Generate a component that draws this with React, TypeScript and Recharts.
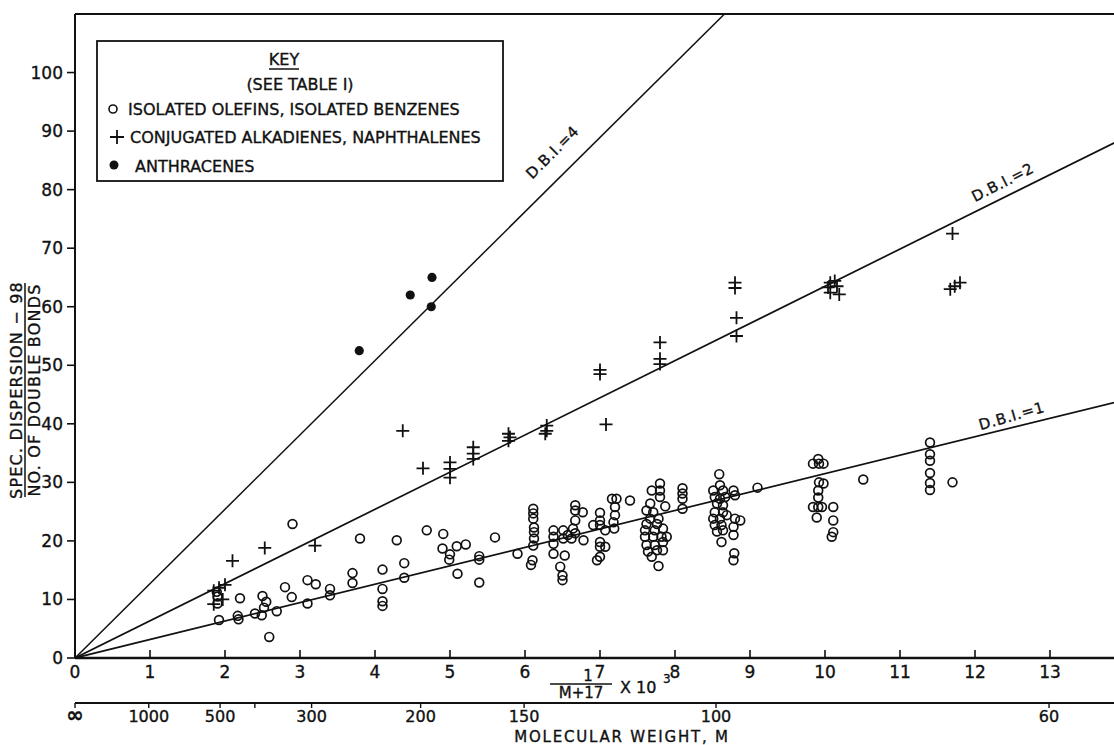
import { ScatterChart, Scatter, XAxis, YAxis, ReferenceLine } from "recharts";

// x = 1/(M+17) x 10^3, y = (spec. dispersion - 98) / no. of double bonds
const olefins = [
  [1.89, 11.3], [1.9, 10.5], [1.9, 9.3], [1.92, 6.5],
  [2.2, 10.2], [2.17, 7.2], [2.18, 6.6], [2.4, 7.6], [2.49, 7.3], [2.5, 10.6],
  [2.55, 9.6], [2.52, 8.6], [2.59, 3.6], [2.69, 8.0], [2.8, 12.1], [2.89, 10.4],
  [2.9, 22.9], [3.1, 13.3], [3.21, 12.6], [3.1, 9.3], [3.4, 11.8], [3.4, 10.7],
  [3.7, 14.5], [3.7, 12.8], [3.8, 20.4], [4.1, 15.1], [4.1, 11.8], [4.1, 9.7],
  [4.1, 8.9], [4.29, 20.1], [4.39, 16.2], [4.39, 13.7],
  [4.69, 21.8], [4.91, 21.2], [4.9, 18.7], [5.09, 19.1], [5.21, 19.4], [5.0, 17.7],
  [4.99, 16.8], [5.1, 14.4], [5.39, 17.4], [5.39, 16.8], [5.39, 12.9], [5.6, 20.6],
  [5.9, 17.8],
  [6.11, 25.5], [6.11, 24.7], [6.11, 23.8], [6.12, 22.3], [6.12, 21.5], [6.12, 20.4],
  [6.11, 19.2], [6.1, 16.7], [6.08, 15.9],
  [6.38, 21.8], [6.38, 20.7], [6.38, 19.5], [6.38, 17.8], [6.51, 21.8], [6.51, 20.4],
  [6.53, 17.5], [6.47, 15.6], [6.5, 14.1], [6.5, 13.3], [6.57, 21.0],
  [6.67, 26.1], [6.67, 25.2], [6.77, 24.9], [6.67, 23.5], [6.64, 22.1], [6.67, 21.3],
  [6.62, 20.4],
  [7.0, 24.8], [7.0, 23.5], [6.91, 22.7], [7.0, 22.7], [7.07, 21.8], [7.0, 19.8],
  [7.0, 19.0], [7.07, 19.0], [7.0, 17.3], [6.96, 16.7], [6.78, 20.1],
  [7.16, 27.2], [7.22, 27.2], [7.2, 25.8], [7.2, 24.4], [7.18, 23.2], [7.19, 22.1],
  [7.4, 26.9],
  [7.8, 29.8], [7.8, 28.6], [7.69, 28.6], [7.8, 27.5], [7.67, 26.4], [7.87, 25.9],
  [7.62, 25.2], [7.71, 24.9], [7.67, 23.8], [7.78, 23.8], [7.62, 22.9], [7.76, 22.9],
  [7.6, 21.8], [7.73, 21.8], [7.84, 22.1], [7.6, 20.7], [7.71, 20.7], [7.82, 20.7],
  [7.89, 20.7], [7.62, 19.3], [7.73, 19.3], [7.84, 19.8], [7.64, 18.2], [7.76, 18.4],
  [7.84, 18.4], [7.69, 17.3], [7.78, 15.7],
  [8.1, 29.0], [8.1, 28.1], [8.1, 27.2], [8.1, 25.5],
  [8.59, 31.4], [8.6, 29.5], [8.51, 28.6], [8.64, 28.6], [8.53, 27.5], [8.6, 27.2],
  [8.67, 27.5], [8.56, 26.4], [8.64, 26.1], [8.53, 24.9], [8.64, 24.9], [8.51, 23.8],
  [8.6, 23.8], [8.69, 24.4], [8.53, 22.7], [8.62, 22.7], [8.56, 21.6], [8.64, 21.8],
  [8.62, 19.8], [8.78, 28.6], [8.8, 27.8], [8.8, 23.8], [8.87, 23.5], [8.78, 22.4],
  [8.78, 21.0], [8.79, 17.9], [8.78, 16.7],
  [9.1, 29.1],
  [9.84, 33.2], [9.92, 33.2], [9.98, 33.2], [9.91, 34.0], [9.92, 30.0], [9.98, 29.8],
  [9.91, 28.6], [9.91, 27.4], [9.84, 25.8], [9.91, 25.8], [9.96, 25.8], [9.89, 24.0],
  [10.11, 25.8], [10.11, 23.5], [10.11, 21.5], [10.09, 20.7],
  [10.51, 30.5],
  [11.4, 36.8], [11.4, 34.8], [11.4, 33.7], [11.4, 31.6], [11.4, 29.9], [11.4, 28.7],
  [11.7, 30.0],
].map(([x, y]) => ({ x, y }));

const conjugated = [
  [1.85, 11.5], [1.92, 12.0], [2.0, 12.5], [1.85, 9.2], [1.97, 10.0], [2.1, 16.6],
  [2.53, 18.8], [3.2, 19.2], [4.37, 38.8], [4.64, 32.4], [5.0, 33.4], [5.0, 32.3],
  [5.0, 30.8], [5.31, 36.0], [5.31, 34.9], [5.31, 34.0], [5.78, 38.3], [5.8, 37.7],
  [5.78, 37.1], [6.29, 39.7], [6.29, 38.8], [6.27, 38.3], [7.0, 49.2], [7.0, 48.5],
  [7.08, 39.9], [7.8, 53.9], [7.8, 51.1], [7.8, 50.2], [8.8, 64.1], [8.8, 63.2],
  [8.82, 58.1], [8.82, 55.0], [10.07, 64.1], [10.13, 64.4], [10.04, 63.3],
  [10.16, 63.5], [10.07, 62.4], [10.19, 62.1], [11.7, 72.5], [11.67, 63.0],
  [11.73, 63.5], [11.8, 64.1],
].map(([x, y]) => ({ x, y }));

const anthracenes = [
  [3.79, 52.5], [4.47, 62.0], [4.76, 65.0], [4.75, 60.0],
].map(([x, y]) => ({ x, y }));

// fitted lines through the origin
const dbi1 = [{ x: 0, y: 0 }, { x: 14, y: 44.1 }];
const dbi2 = [{ x: 0, y: 0 }, { x: 14, y: 88.9 }];
const dbi4 = [{ x: 0, y: 0 }, { x: 8.66, y: 110 }];

const xTicks = [0, 1, 2, 3, 4, 5, 6, 7, 8, 9, 10, 11, 12, 13];
const yTicks = [0, 10, 20, 30, 40, 50, 60, 70, 80, 90, 100];
const mwValues = [Infinity, 1000, 500, 400, 300, 200, 150, 100, 60];
const mwLabels = ["∞", "1000", "500", "", "300", "200", "150", "100", "60"];
const mwTicks = mwValues.map((m) => (m === Infinity ? 0 : 1000 / (m + 17)));

const INK = "#111";
const FONT = "'DejaVu Sans', sans-serif";

const XTick = (p: any) => (
  <g>
    <line x1={p.x} x2={p.x} y1={p.y} y2={p.y - 8} stroke={INK} strokeWidth={1.6} />
    <text x={p.x} y={p.y + 20} textAnchor="middle" fill={INK} stroke={INK} strokeWidth={0.35} fontSize={17} fontFamily={FONT}>
      {p.payload.value}
    </text>
  </g>
);

const MwTick = (p: any) => {
  const label = mwLabels[p.index];
  return (
    <g>
      <line x1={p.x} x2={p.x} y1={p.y} y2={p.y + 5} stroke={INK} strokeWidth={1.4} />
      <text
        x={p.x}
        y={p.y + 19}
        textAnchor="middle"
        fill={INK}
        stroke={INK}
        strokeWidth={0.35}
        fontSize={label === "∞" ? 21 : 16}
        fontWeight={label === "∞" ? "bold" : "normal"}
        fontFamily={FONT}
      >
        {label}
      </text>
    </g>
  );
};

const OpenCircle = (p: any) => (
  <circle cx={p.cx} cy={p.cy} r={4.4} fill="none" stroke={INK} strokeWidth={1.7} />
);
const Plus = (p: any) => (
  <path
    d={`M${p.cx - 6.5},${p.cy}H${p.cx + 6.5}M${p.cx},${p.cy - 6.5}V${p.cy + 6.5}`}
    stroke={INK}
    strokeWidth={1.8}
  />
);
const Dot = (p: any) => <circle cx={p.cx} cy={p.cy} r={4.6} fill={INK} />;
const NoDot = () => <g />;

const txt = { fill: INK, stroke: INK, strokeWidth: 0.35, fontFamily: FONT };

export default function App() {
  return (
    <div style={{ position: "absolute", left: 0, top: 0, width: 1114, height: 745, overflow: "hidden", background: "#fff" }}>
      <ScatterChart width={1130} height={745} margin={{ top: 14, right: 5, bottom: 0, left: 0 }}>
        <XAxis
          dataKey="x"
          type="number"
          domain={[0, 14]}
          ticks={xTicks}
          interval={0}
          allowDataOverflow
          height={45}
          tickSize={0}
          tickMargin={0}
          tickLine={false}
          tick={<XTick />}
          axisLine={{ stroke: INK, strokeWidth: 2.5 }}
        />
        <XAxis
          xAxisId="mw"
          dataKey="x"
          type="number"
          domain={[0, 14]}
          ticks={mwTicks}
          interval={0}
          allowDataOverflow
          height={42}
          tickSize={0}
          tickMargin={0}
          tickLine={false}
          tick={<MwTick />}
          axisLine={{ stroke: INK, strokeWidth: 2 }}
        />
        <YAxis
          dataKey="y"
          type="number"
          domain={[0, 110]}
          ticks={yTicks}
          interval={0}
          allowDataOverflow
          width={75}
          tickSize={8}
          tickMargin={4}
          tickLine={{ stroke: INK, strokeWidth: 1.6 }}
          axisLine={{ stroke: INK, strokeWidth: 2 }}
          tick={{ fill: INK, stroke: INK, strokeWidth: 0.35, fontSize: 17, fontFamily: FONT }}
        />
        <ReferenceLine y={110} stroke={INK} strokeWidth={2} />
        <Scatter xAxisId="mw" data={dbi1} shape={<NoDot />} line={{ stroke: INK, strokeWidth: 1.7 }} isAnimationActive={false} />
        <Scatter xAxisId="mw" data={dbi2} shape={<NoDot />} line={{ stroke: INK, strokeWidth: 1.7 }} isAnimationActive={false} />
        <Scatter xAxisId="mw" data={dbi4} shape={<NoDot />} line={{ stroke: INK, strokeWidth: 1.5 }} isAnimationActive={false} />
        <Scatter data={olefins} shape={<OpenCircle />} isAnimationActive={false} />
        <Scatter data={conjugated} shape={<Plus />} isAnimationActive={false} />
        <Scatter data={anthracenes} shape={<Dot />} isAnimationActive={false} />
      </ScatterChart>

      <svg width={1114} height={745} style={{ position: "absolute", left: 0, top: 0, pointerEvents: "none" }}>
        {/* key */}
        <rect x={97} y={41} width={406} height={140} fill="none" stroke={INK} strokeWidth={1.8} />
        <text x={284} y={65} textAnchor="middle" fontSize={16} {...txt}>KEY</text>
        <line x1={269} x2={299} y1={69} y2={69} stroke={INK} strokeWidth={1.5} />
        <text x={300} y={90} textAnchor="middle" fontSize={16} {...txt}>(SEE TABLE I)</text>
        <circle cx={113} cy={109} r={4} fill="none" stroke={INK} strokeWidth={1.6} />
        <text x={128} y={115} fontSize={16} {...txt}>ISOLATED OLEFINS, ISOLATED BENZENES</text>
        <path d="M110,137H124M117,130V144" stroke={INK} strokeWidth={1.8} />
        <text x={130} y={143} fontSize={16} {...txt}>CONJUGATED ALKADIENES, NAPHTHALENES</text>
        <circle cx={114} cy={165} r={4.5} fill={INK} />
        <text x={135} y={172} fontSize={16} {...txt}>ANTHRACENES</text>

        {/* line labels */}
        <text transform="translate(556,156) rotate(-45)" textAnchor="middle" fontSize={15} letterSpacing={0.6} {...txt}>D.B.I.=4</text>
        <text transform="translate(1005,187) rotate(-27)" textAnchor="middle" fontSize={15} letterSpacing={0.6} {...txt}>D.B.I.=2</text>
        <text transform="translate(1013,421) rotate(-16)" textAnchor="middle" fontSize={15} letterSpacing={0.6} {...txt}>D.B.I.=1</text>

        {/* y title */}
        <text transform="translate(22,390) rotate(-90)" textAnchor="middle" fontSize={16} letterSpacing={1.2} {...txt}>SPEC. DISPERSION − 98</text>
        <line x1={25} x2={25} y1={283} y2={497} stroke={INK} strokeWidth={1.5} />
        <text transform="translate(40,390) rotate(-90)" textAnchor="middle" fontSize={16} letterSpacing={1.2} {...txt}>NO. OF DOUBLE BONDS</text>

        {/* x titles */}
        <text x={588} y={681} textAnchor="middle" fontSize={15} {...txt}>1</text>
        <line x1={550} x2={612} y1={684} y2={684} stroke={INK} strokeWidth={1.5} />
        <text x={581} y={698} textAnchor="middle" fontSize={15} {...txt}>M+17</text>
        <text x={620} y={693} fontSize={16} {...txt}>X 10</text>
        <text x={663} y={683} fontSize={12} {...txt}>3</text>
        <text x={622} y={742} textAnchor="middle" fontSize={15} letterSpacing={1.8} {...txt}>MOLECULAR WEIGHT, M</text>
      </svg>
    </div>
  );
}
